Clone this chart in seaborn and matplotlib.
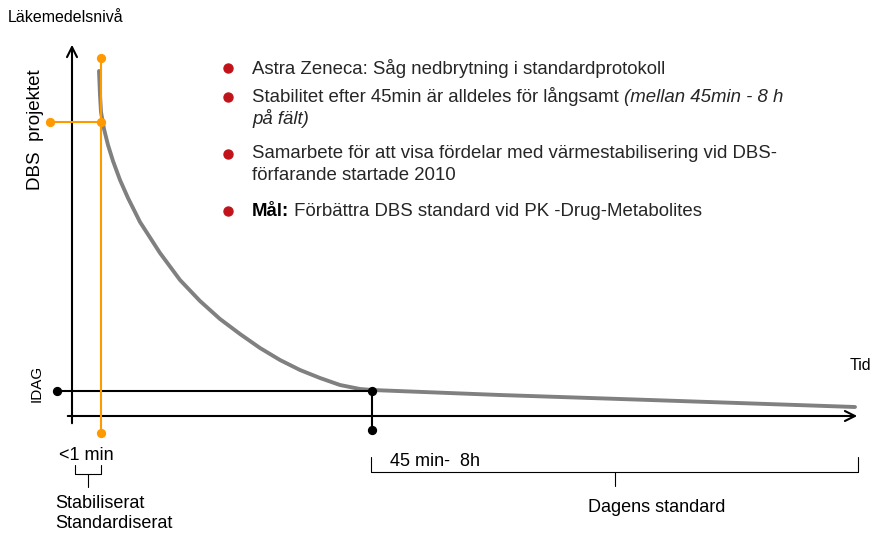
import numpy as np
import pandas as pd
import matplotlib
matplotlib.use("Agg")
import matplotlib.pyplot as plt
import seaborn as sns

# decay curve (diagram units, y grows downward)
curve_x = [99, 100, 101, 104, 108, 113, 120, 128, 140, 160, 180, 200, 220, 240,
           260, 280, 300, 320, 340, 360, 372, 500, 650, 855]
curve_y = [71, 95, 112, 129, 145, 161, 180, 198, 222, 253, 280, 301, 319, 334,
           348, 360, 370, 378, 385, 389, 390, 395, 400, 407]

bullets = [
    [("Astra Zeneca: Såg nedbrytning i standardprotokoll", "normal", "normal")],
    [("Stabilitet efter 45min är alldeles för långsamt ", "normal", "normal"),
     ("(mellan 45min - 8 h", "normal", "italic")],
    [("Samarbete för att visa fördelar med värmestabilisering vid DBS-", "normal", "normal")],
    [("Mål:", "bold", "normal"), (" Förbättra DBS standard vid PK -Drug-Metabolites", "normal", "normal")],
]
bullet_y = [68, 97, 154, 211]
cont_lines = [("på fält)", 119, "italic"), ("förfarande startade 2010", 176, "normal")]

sns.set_theme(style="white")
plt.rcParams['font.family'] = ['Liberation Sans', 'DejaVu Sans']

fig = plt.figure(figsize=(8.78, 5.35), dpi=100)
ax = fig.add_axes([0, 0, 1, 1])
ax.set_xlim(0, 878)
ax.set_ylim(535, 0)
ax.axis("off")

TXT = "#262626"
ORANGE = "#FF9900"
FS = 13

# axes arrows
ax.annotate("", xy=(72, 42), xytext=(72, 426),
            arrowprops=dict(arrowstyle="->", color="black", lw=1.5, mutation_scale=18))
ax.annotate("", xy=(860, 416), xytext=(65, 416),
            arrowprops=dict(arrowstyle="->", color="black", lw=1.5, mutation_scale=18))

# decay curve
df = pd.DataFrame({"x": curve_x, "y": curve_y})
sns.lineplot(data=df, x="x", y="y", sort=False, color="#808080", lw=2.8, ax=ax)

# IDAG level and 45 min marker
ax.plot([57, 372], [391, 391], color="black", lw=1.5)
ax.plot([372, 372], [391, 430], color="black", lw=1.5)
ax.scatter([57, 372, 372], [391, 391, 430], color="black", s=32, zorder=5)

# orange marker lines
ax.plot([101, 101], [58, 433], color=ORANGE, lw=1.5, zorder=4)
ax.plot([50, 101], [122, 122], color=ORANGE, lw=1.5, zorder=4)
ax.scatter([101, 101, 50, 101], [58, 433, 122, 122], color=ORANGE, s=32, zorder=5)

# labels
ax.text(8, 18, "Läkemedelsnivå", fontsize=11.5, color="black", va="center", ha="left")
ax.text(36, 130, "DBS  projektet", fontsize=13.5, rotation=90, va="center", ha="center", color="black")
ax.text(37, 383, "IDAG", fontsize=11, rotation=90, va="center", ha="center", color="black")
ax.text(871, 365, "Tid", fontsize=11.5, ha="right", va="center", color="black")

# <1 min bracket
ax.text(59, 455, "<1 min", fontsize=FS, va="center", ha="left", color="black")
ax.plot([75, 75, 101, 101], [465, 474, 474, 465], color="black", lw=0.8)
ax.plot([88, 88], [474, 487], color="black", lw=0.8)
ax.text(55, 503, "Stabiliserat", fontsize=FS, va="center", color="black")
ax.text(55, 523, "Standardiserat", fontsize=FS, va="center", color="black")

# 45 min - 8h bracket
ax.text(390, 462, "45 min-  8h", fontsize=FS, va="center", ha="left", color="black")
ax.plot([371, 371, 858, 858], [457, 472, 472, 457], color="black", lw=0.8)
ax.plot([615, 615], [472, 486], color="black", lw=0.8)
ax.text(657, 508, "Dagens standard", fontsize=FS, va="center", ha="center", color="black")

# bullet list
for y, parts in zip(bullet_y, bullets):
    ax.scatter([228], [y], color="#C0141A", s=42, zorder=5)
    prev = None
    for txt, weight, style in parts:
        col = "black" if weight == "bold" else TXT
        if prev is None:
            prev = ax.text(252, y, txt, fontsize=13.4, fontweight=weight, fontstyle=style,
                           color=col, va="center", ha="left")
        else:
            prev = ax.annotate(txt, xy=(1, 0), xycoords=prev, fontsize=13.4, fontweight=weight,
                               fontstyle=style, color=col, va="bottom", ha="left")
for txt, y, style in cont_lines:
    ax.text(252, y, txt, fontsize=13.4, fontstyle=style, color=TXT, va="center", ha="left")

fig.savefig("out.png", dpi=100)
